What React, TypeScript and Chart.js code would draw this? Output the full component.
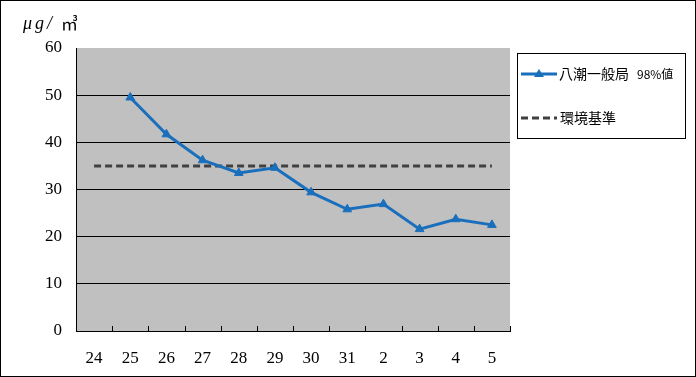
import React, { useEffect, useRef } from "react";
import { Chart, registerables } from "chart.js";

Chart.register(...registerables);

const categories = ["24", "25", "26", "27", "28", "29", "30", "31", "2", "3", "4", "5"];
const stationValues: (number | null)[] = [null, 49.5, 41.7, 36.2, 33.5, 34.6, 29.4, 25.8, 26.9, 21.6, 23.7, 22.5];
const standardValues = [35, 35, 35, 35, 35, 35, 35, 35, 35, 35, 35, 35];
const seriesName = "八潮一般局";
const seriesSuffix = "98%値";
const standardName = "環境基準";
const unitPrefix = "μg/";
const unitSuffix = "㎥";

const BLUE = "#1a6fbd";
const DARK = "#404040";

const decorPlugin = {
  id: "decor",
  beforeDraw(chart: any) {
    const { ctx, chartArea } = chart;
    ctx.save();
    ctx.fillStyle = "#ffffff";
    ctx.fillRect(0, 0, chart.width, chart.height);
    ctx.fillStyle = "#C0C0C0";
    ctx.fillRect(chartArea.left, chartArea.top, chartArea.right - chartArea.left, chartArea.bottom - chartArea.top);
    ctx.restore();
  },
  afterDraw(chart: any) {
    const { ctx, chartArea, scales } = chart;
    const x = scales.x;
    ctx.save();
    ctx.strokeStyle = "#000";
    ctx.lineWidth = 1;
    const n = categories.length;
    for (let i = 1; i <= n; i++) {
      const px = i < n ? (x.getPixelForValue(i - 1) + x.getPixelForValue(i)) / 2 : chartArea.right;
      const xx = Math.round(px) + 0.5;
      ctx.beginPath();
      ctx.moveTo(xx, chartArea.bottom);
      ctx.lineTo(xx, chartArea.bottom - 5);
      ctx.stroke();
    }
    // unit label
    ctx.fillStyle = "#000";
    ctx.textBaseline = "alphabetic";
    ctx.textAlign = "left";
    ctx.font = "italic 18px 'Liberation Serif'";
    (ctx as any).letterSpacing = "3px";
    ctx.fillText(unitPrefix, 23, 29);
    (ctx as any).letterSpacing = "0px";
    ctx.font = "17px 'Noto Sans CJK JP'";
    ctx.fillText(unitSuffix, 61, 30);

    // legend box
    ctx.textBaseline = "middle";
    ctx.strokeStyle = "#000";
    ctx.strokeRect(517.5, 53.5, 168, 85);
    const y1 = 74;
    ctx.strokeStyle = BLUE;
    ctx.lineWidth = 3;
    ctx.beginPath();
    ctx.moveTo(521, y1);
    ctx.lineTo(557, y1);
    ctx.stroke();
    ctx.fillStyle = BLUE;
    ctx.beginPath();
    ctx.moveTo(539, y1 - 5);
    ctx.lineTo(544, y1 + 3);
    ctx.lineTo(534, y1 + 3);
    ctx.closePath();
    ctx.fill();
    ctx.fillStyle = "#000";
    ctx.font = "14px 'Noto Sans CJK JP'";
    ctx.fillText(seriesName, 559, y1);
    ctx.font = "12px 'Noto Sans CJK JP'";
    ctx.fillText(seriesSuffix, 637, y1);
    const y2 = 118;
    ctx.strokeStyle = DARK;
    ctx.lineWidth = 3;
    ctx.setLineDash([7, 4]);
    ctx.beginPath();
    ctx.moveTo(521, y2);
    ctx.lineTo(557, y2);
    ctx.stroke();
    ctx.setLineDash([]);
    ctx.font = "14px 'Noto Sans CJK JP'";
    ctx.fillText(standardName, 560, y2);

    ctx.strokeStyle = "#000";
    ctx.lineWidth = 1;
    ctx.strokeRect(0.5, 0.5, chart.width - 1, chart.height - 1);
    ctx.restore();
  },
};

export default function App() {
  const ref = useRef<HTMLCanvasElement | null>(null);
  useEffect(() => {
    document.body.style.margin = "0";
    const canvas = ref.current!;
    const chart = new Chart(canvas, {
      type: "line",
      data: {
        labels: categories,
        datasets: [
          {
            label: seriesName + " " + seriesSuffix,
            data: stationValues,
            borderColor: BLUE,
            backgroundColor: BLUE,
            borderWidth: 3,
            pointStyle: "triangle",
            pointRadius: 5,
            pointBorderWidth: 1,
            spanGaps: false,
            tension: 0,
          },
          {
            label: standardName,
            data: standardValues,
            borderColor: DARK,
            borderWidth: 3,
            borderDash: [7, 4],
            pointRadius: 0,
            tension: 0,
          },
        ],
      },
      options: {
        animation: false,
        responsive: false,
        devicePixelRatio: 1,
        layout: { padding: { top: 48, right: 186, left: 0, bottom: 0 } },
        plugins: { legend: { display: false }, tooltip: { enabled: false } },
        scales: {
          x: {
            offset: true,
            grid: { display: false },
            border: { color: "#000", width: 1 },
            ticks: { color: "#000", font: { family: "'Liberation Serif'", size: 17 }, padding: 9, maxRotation: 0 },
            afterFit(scale: any) {
              scale.height = 46;
            },
          },
          y: {
            min: 0,
            max: 60,
            ticks: { stepSize: 10, color: "#000", font: { family: "'Liberation Serif'", size: 17 }, padding: 14 },
            grid: {
              color: (c: any) => (c.tick && c.tick.value === 60 ? "rgba(0,0,0,0)" : "#000"),
              drawTicks: false,
              lineWidth: 1,
            },
            border: { color: "#000", width: 1 },
            afterFit(scale: any) {
              scale.width = 76;
            },
          },
        },
      },
      plugins: [decorPlugin],
    });
    return () => chart.destroy();
  }, []);
  return <canvas ref={ref} width={696} height={377} style={{ display: "block" }} />;
}
